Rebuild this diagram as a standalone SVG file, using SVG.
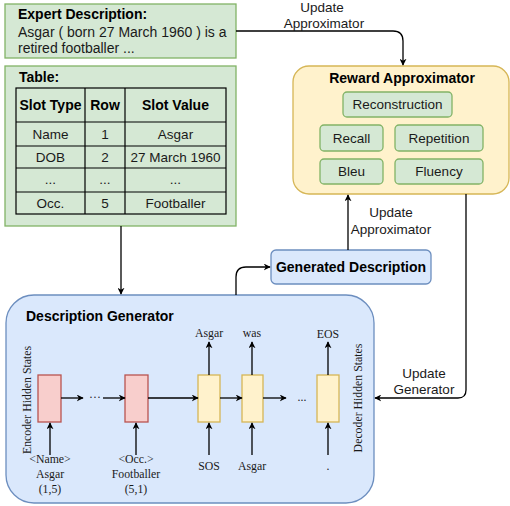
<svg xmlns="http://www.w3.org/2000/svg" width="510" height="506" viewBox="0 0 510 506">
<defs>
<marker id="ah" viewBox="0 0 10 10" refX="9" refY="5" markerWidth="7" markerHeight="7" orient="auto" markerUnits="userSpaceOnUse">
<path d="M0,0 L10,5 L0,10 L3,5 Z" fill="#000"/>
</marker>
<style>
.green{fill:#d5e8d4;stroke:#82b366;stroke-width:1.3}
.yellow{fill:#fff2cc;stroke:#d6b656;stroke-width:1.3}
.blue{fill:#dae8fc;stroke:#6c8ebf;stroke-width:1.3}
.pink{fill:#f8cecc;stroke:#b85450;stroke-width:1.3}
.s{font-family:"Liberation Sans",Arial,sans-serif;font-size:13.5px;fill:#1a1a1a}
.e{font-size:14px}
.b{font-family:"Liberation Sans",Arial,sans-serif;font-size:14px;font-weight:bold;fill:#000}
.t{font-family:"Liberation Serif","Times New Roman",serif;font-size:11.8px;fill:#1a1a1a}
.c{text-anchor:middle}
.ln{fill:none;stroke:#000;stroke-width:1.3}
.tbl{fill:none;stroke:#000;stroke-width:1.2}
</style>
</defs>

<g id="expert-description">
<rect class="green" x="5" y="4" width="231" height="54"/>
<text class="b" x="18" y="19">Expert Description:</text>
<text class="s e" x="18" y="37">Asgar ( born 27 March 1960 ) is a</text>
<text class="s e" x="18" y="53">retired footballer ...</text>
</g>

<g id="table">
<rect class="green" x="5" y="66" width="231" height="160"/>
<text class="b" x="19" y="82">Table:</text>
<rect class="tbl" x="16" y="88" width="210" height="126"/>
<path class="tbl" d="M85,88V214 M125,88V214 M16,122H226 M16,146H226 M16,168H226 M16,192H226"/>
<text class="b c" x="50.5" y="110">Slot Type</text>
<text class="b c" x="105" y="110">Row</text>
<text class="b c" x="175.5" y="110">Slot Value</text>
<text class="s c" x="50.5" y="139">Name</text>
<text class="s c" x="105" y="139">1</text>
<text class="s c" x="175.5" y="139">Asgar</text>
<text class="s c" x="50.5" y="162">DOB</text>
<text class="s c" x="105" y="162">2</text>
<text class="s c" x="175.5" y="162">27 March 1960</text>
<text class="s c" x="50.5" y="184">...</text>
<text class="s c" x="105" y="184">...</text>
<text class="s c" x="175.5" y="184">...</text>
<text class="s c" x="50.5" y="208">Occ.</text>
<text class="s c" x="105" y="208">5</text>
<text class="s c" x="175.5" y="208">Footballer</text>
</g>

<g id="reward-approximator">
<rect class="yellow" x="293" y="66" width="216" height="128" rx="16"/>
<text class="b c" x="402" y="83">Reward Approximator</text>
<rect class="green" x="343" y="92" width="109" height="25" rx="4"/>
<text class="s c" x="397.5" y="109">Reconstruction</text>
<rect class="green" x="320" y="125" width="63" height="26" rx="4"/>
<text class="s c" x="351.5" y="143">Recall</text>
<rect class="green" x="395" y="125" width="88" height="26" rx="4"/>
<text class="s c" x="439" y="143">Repetition</text>
<rect class="green" x="320" y="159" width="63" height="25" rx="4"/>
<text class="s c" x="351.5" y="176">Bleu</text>
<rect class="green" x="395" y="159" width="88" height="25" rx="4"/>
<text class="s c" x="439" y="176">Fluency</text>
</g>

<g id="generated-description">
<rect class="blue" x="271" y="250" width="160" height="34" rx="5"/>
<text class="b c" x="351" y="272">Generated Description</text>
</g>

<g id="description-generator">
<rect class="blue" x="6" y="295" width="368" height="208" rx="28"/>
<text class="b" x="26" y="321">Description Generator</text>
<text class="t c" transform="translate(31,400) rotate(-90)">Encoder Hidden States</text>
<text class="t c" transform="translate(362,398) rotate(-90)">Decoder Hidden States</text>
<rect class="pink" x="38" y="375" width="23" height="47"/>
<rect class="pink" x="125" y="375" width="23" height="47"/>
<rect class="yellow" x="198" y="375" width="22" height="47"/>
<rect class="yellow" x="242" y="375" width="21" height="47"/>
<rect class="yellow" x="317" y="375" width="22" height="47"/>
<text class="t c" x="95" y="401">···</text>
<text class="t c" x="302" y="401">...</text>
<text class="t c" x="209" y="337">Asgar</text>
<text class="t c" x="252" y="337">was</text>
<text class="t c" x="328" y="338">EOS</text>
<text class="t c" x="50" y="463">&lt;Name&gt;</text>
<text class="t c" x="50" y="478">Asgar</text>
<text class="t c" x="50" y="493">(1,5)</text>
<text class="t c" x="136" y="463">&lt;Occ.&gt;</text>
<text class="t c" x="136" y="478">Footballer</text>
<text class="t c" x="136" y="493">(5,1)</text>
<text class="t c" x="209" y="470">SOS</text>
<text class="t c" x="252" y="470">Asgar</text>
<text class="t c" x="328" y="470">.</text>
</g>

<g id="connectors">
<path class="ln" d="M236,31 H393 Q403,31 403,41 V65" marker-end="url(#ah)"/>
<text class="s c" x="322" y="12">Update</text>
<text class="s c" x="324" y="28">Approximator</text>
<path class="ln" d="M121,226 V294" marker-end="url(#ah)"/>
<path class="ln" d="M236,295 V277 Q236,267 246,267 H270" marker-end="url(#ah)"/>
<path class="ln" d="M348,250 V195" marker-end="url(#ah)"/>
<text class="s c" x="391" y="217">Update</text>
<text class="s c" x="391" y="234">Approximator</text>
<path class="ln" d="M466,194 V390 Q466,398 458,398 H375" marker-end="url(#ah)"/>
<text class="s c" x="424" y="378">Update</text>
<text class="s c" x="424" y="394">Generator</text>
<path class="ln" d="M61,398 H83" marker-end="url(#ah)"/>
<path class="ln" d="M103,398 H125" marker-end="url(#ah)"/>
<path class="ln" d="M148,398 H198" marker-end="url(#ah)"/>
<path class="ln" d="M220,398 H242" marker-end="url(#ah)"/>
<path class="ln" d="M263,398 H286" marker-end="url(#ah)"/>
<path class="ln" d="M50,455 V423" marker-end="url(#ah)"/>
<path class="ln" d="M136,455 V423" marker-end="url(#ah)"/>
<path class="ln" d="M209,455 V423" marker-end="url(#ah)"/>
<path class="ln" d="M252,455 V423" marker-end="url(#ah)"/>
<path class="ln" d="M328,455 V423" marker-end="url(#ah)"/>
<path class="ln" d="M209,375 V342" marker-end="url(#ah)"/>
<path class="ln" d="M252,375 V342" marker-end="url(#ah)"/>
<path class="ln" d="M328,375 V342" marker-end="url(#ah)"/>
</g>
</svg>
